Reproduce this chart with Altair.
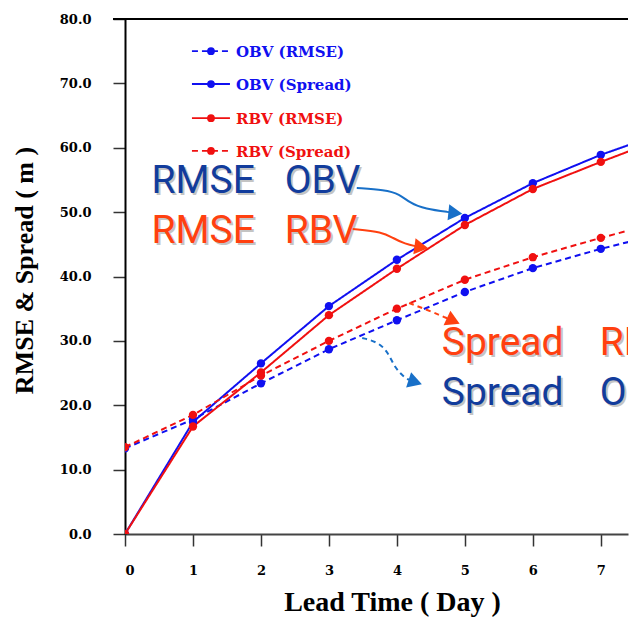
import altair as alt
import pandas as pd

# ---------------- data ----------------
days = [0, 1, 2, 3, 4, 5, 6, 7, 8]
obv_rmse = [13.3, 17.8, 23.4, 28.7, 33.2, 37.6, 41.3, 44.3, 46.9]     # dashed blue
obv_spread = [0.0, 17.4, 26.5, 35.4, 42.6, 49.1, 54.5, 58.9, 62.6]   # solid blue
rbv_rmse = [0.0, 16.7, 25.1, 34.0, 41.2, 48.0, 53.6, 57.8, 61.8]     # solid red
rbv_spread = [13.5, 18.5, 24.6, 30.0, 35.0, 39.5, 43.0, 46.0, 48.8]  # dashed red

series_names = ["OBV (RMSE)", "OBV (Spread)", "RBV (RMSE)", "RBV (Spread)"]
series_values = [obv_rmse, obv_spread, rbv_rmse, rbv_spread]
series_colors = ["#1010f0", "#1010f0", "#f01010", "#f01010"]
series_dash = [[6, 4], [1, 0], [1, 0], [6, 4]]

x_ticks = [0, 1, 2, 3, 4, 5, 6, 7]
y_ticks = [0, 10, 20, 30, 40, 50, 60, 70, 80]

# legend rows (data units)
legend_y = [75.0, 69.9, 64.6, 59.5]
legend_x_line = [0.985, 1.544]
legend_x_point = 1.265
legend_x_text = 1.632

# annotation words (data units)
ann_words = ["RMSE", "OBV", "RMSE", "RBV", "Spread", "RBV", "Spread", "OBV"]
ann_x = [0.39, 2.35, 0.39, 2.35, 4.66, 6.985, 4.66, 6.985]
ann_y = [53.0, 53.0, 45.2, 45.2, 27.8, 27.8, 20.0, 20.0]
ann_color = ["#123c9c", "#123c9c", "#ff4010", "#ff4010",
             "#ff4010", "#ff4010", "#123c9c", "#123c9c"]

# arrows (data units)
arr_blue_solid_x = [3.41, 3.82, 4.04, 4.19, 4.41, 4.80]
arr_blue_solid_y = [53.75, 53.44, 52.82, 51.42, 50.49, 49.95]
arr_red_solid_x = [3.35, 3.79, 3.94, 4.12, 4.30]
arr_red_solid_y = [47.38, 46.91, 45.98, 45.05, 44.65]
arr_red_dash_x = [4.18, 4.41, 4.63, 4.74]
arr_red_dash_y = [35.88, 34.95, 34.02, 33.5]
arr_blue_dash_x = [3.49, 3.72, 3.87, 3.97, 4.12, 4.18]
arr_blue_dash_y = [30.45, 29.83, 28.27, 25.79, 24.23, 23.95]

heads_x = [4.86, 4.36, 4.83, 4.27]
heads_y = [49.88, 44.55, 33.1, 23.6]
heads_angle = [6, 8, 25, 18]
heads_color = ["#1870c8", "#ff4010", "#ff4010", "#1870c8"]

# ---------------- tables ----------------
rows = []
for name, vals in zip(series_names, series_values):
    for d, v in zip(days, vals):
        rows.append({"day": d, "value": v, "series": name})
df = pd.DataFrame(rows)

color_scale = alt.Scale(domain=series_names, range=series_colors)
dash_scale = alt.Scale(domain=series_names, range=series_dash)

xs = alt.Scale(domain=[0, 7.4], nice=False, zero=False)
ys = alt.Scale(domain=[0, 80], nice=False)

SERIF = "DejaVu Serif"

x_enc = alt.X("day:Q", scale=xs, axis=alt.Axis(
    values=x_ticks, format="d", grid=False, tickSize=12, tickColor="#333",
    domainColor="#444", domainWidth=2, tickWidth=1.5,
    labelFont=SERIF, labelFontWeight="bold", labelFontSize=13, labelColor="#000",
    labelPadding=18, title="Lead Time ( Day )", titleFont="Liberation Serif",
    titleFontSize=28, titleFontWeight="bold", titleColor="#000",
    titleX=267, titleY=76, titleBaseline="alphabetic", titleAlign="center"))
y_enc = alt.Y("value:Q", scale=ys, axis=alt.Axis(
    values=y_ticks, format=".1f", grid=False, tickSize=12, tickColor="#333",
    domainColor="#000", domainWidth=2, tickWidth=1.5,
    labelFont=SERIF, labelFontWeight="bold", labelFontSize=13, labelColor="#000",
    labelPadding=22, title="RMSE & Spread ( m )", titleFont="Liberation Serif",
    titleFontSize=26, titleFontWeight="bold", titleColor="#000",
    titleAngle=270, titleX=-93, titleY=251, titleBaseline="alphabetic",
    titleAlign="center"))

base = alt.Chart(df)
lines = base.mark_line(interpolate="linear", strokeWidth=2, clip=True).encode(
    x=x_enc, y=y_enc,
    color=alt.Color("series:N", scale=color_scale, legend=None),
    strokeDash=alt.StrokeDash("series:N", scale=dash_scale, legend=None),
)
points = base.mark_point(filled=True, size=70, opacity=1, clip=True).encode(
    x="day:Q", y="value:Q",
    color=alt.Color("series:N", scale=color_scale, legend=None),
)

frame_top = alt.Chart(pd.DataFrame({"v": [80]})).mark_rule(
    color="#000", strokeWidth=2).encode(
    y="v:Q", x=alt.value(-12), x2=alt.value(503))

# legend
leg_rows = []
for name, yv in zip(series_names, legend_y):
    leg_rows.append({"series": name, "y": yv, "x1": legend_x_line[0],
                     "x2": legend_x_line[1], "xp": legend_x_point,
                     "xt": legend_x_text})
leg = pd.DataFrame(leg_rows)
leg_lines = alt.Chart(leg).mark_rule(strokeWidth=1.8).encode(
    x="x1:Q", x2="x2:Q", y="y:Q",
    color=alt.Color("series:N", scale=color_scale, legend=None),
    strokeDash=alt.StrokeDash("series:N", scale=dash_scale, legend=None))
leg_pts = alt.Chart(leg).mark_point(filled=True, size=60, opacity=1).encode(
    x="xp:Q", y="y:Q",
    color=alt.Color("series:N", scale=color_scale, legend=None))
leg_txt = alt.Chart(leg).mark_text(
    align="left", baseline="middle", font=SERIF, fontWeight="bold",
    fontSize=15, dy=1).encode(
    x="xt:Q", y="y:Q", text="series:N",
    color=alt.Color("series:N", scale=color_scale, legend=None))

# annotations
ann = pd.DataFrame({"w": ann_words, "x": ann_x, "y": ann_y, "c": ann_color})
ANN_FONT = "Roboto"
ann_shadow = alt.Chart(ann).mark_text(
    align="left", baseline="alphabetic", font=ANN_FONT, fontSize=39,
    color="#c4c4c4", dx=2, dy=2, clip=True).encode(
    x="x:Q", y="y:Q", text="w:N")
ann_text = alt.Chart(ann).mark_text(
    align="left", baseline="alphabetic", font=ANN_FONT, fontSize=39,
    clip=True).encode(
    x="x:Q", y="y:Q", text="w:N", color=alt.Color("c:N", scale=None))

def arrow(xv, yv, col, dash):
    d = pd.DataFrame({"x": xv, "y": yv, "i": list(range(len(xv)))})
    kw = dict(interpolate="basis", strokeWidth=2, color=col)
    if dash:
        kw["strokeDash"] = [5, 4]
    return alt.Chart(d).mark_line(**kw).encode(
        x="x:Q", y="y:Q", order="i:Q")

arrows = [
    arrow(arr_blue_solid_x, arr_blue_solid_y, "#1870c8", False),
    arrow(arr_red_solid_x, arr_red_solid_y, "#ff4010", False),
    arrow(arr_red_dash_x, arr_red_dash_y, "#ff4010", True),
    arrow(arr_blue_dash_x, arr_blue_dash_y, "#1870c8", True),
]
heads = alt.Chart(pd.DataFrame({"x": heads_x, "y": heads_y, "a": heads_angle,
                                "c": heads_color})).mark_point(
    shape="triangle-right", filled=True, size=260, opacity=1).encode(
    x="x:Q", y="y:Q", angle=alt.Angle("a:Q", scale=None),
    color=alt.Color("c:N", scale=None))

chart = alt.layer(
    lines, points, frame_top, leg_lines, leg_pts, leg_txt,
    ann_shadow, ann_text, *arrows, heads,
).properties(
    width=503, height=515,
    autosize=alt.AutoSizeParams(type="none"),
    padding={"left": 125, "top": 19, "right": 4, "bottom": 85},
    background="#ffffff",
).configure_view(stroke=None)

chart.save("out.html", embed_options={"renderer": "svg", "actions": False})
